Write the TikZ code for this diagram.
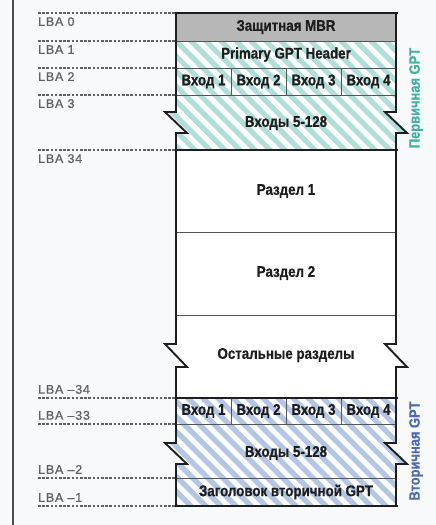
\documentclass[tikz,border=0pt]{standalone}
\usepackage{fontspec}
\setmainfont[FakeStretch=0.86, BoldFeatures={FakeBold=0.7}]{Liberation Sans}
\newfontfamily\lbafont[LetterSpace=6,FakeBold=0.8]{Liberation Sans}

\definecolor{pale}{HTML}{F8F9FB}
\definecolor{ink}{HTML}{1E1E1E}
\definecolor{mbrgray}{HTML}{B7B7B7}
\definecolor{tealstripe}{HTML}{AFDFD9}
\definecolor{bluestripe}{HTML}{B4C6E6}
\definecolor{tealtext}{HTML}{3BB59D}
\definecolor{bluetext}{HTML}{4A6BBF}

%% diagonal stripes inside a closed region
\newcommand{\hatchfill}[2]{%
  \begin{scope}
    \clip #2;
    \foreach \s in {-360,-345,...,405}
      \draw[#1, line width=5.3pt] (\s,0) -- ++(560,560);
  \end{scope}}

\tikzset{
  lba/.style={draw=black!62, dash pattern=on 2.6pt off 1.6pt, line width=1.1pt},
  lbatext/.style={font=\lbafont\fontsize{12.5}{13}\selectfont, text=black!62, inner sep=0pt},
  cell/.style={font=\bfseries\fontsize{15.5}{16}\selectfont, text=ink, inner sep=0pt},
  gpt/.style={font=\bfseries\fontsize{15}{16}\selectfont, rotate=90, inner sep=0pt},
  divide/.style={draw=ink!75, line width=0.9pt},
  outer/.style={draw=ink, line width=1.9pt, line join=miter},
}

\begin{document}
\begin{tikzpicture}[x=1pt,y=-1pt]
\useasboundingbox (0,0) rectangle (436,525);
\fill[pale] (0,0) rectangle (436,525);
\draw[black!70, line width=1.4pt] (13,0) -- (13,525);

%% column background
\fill[white] (176,13) rectangle (396,506);
\fill[mbrgray] (176,13) rectangle (396,41);

%% primary GPT, LBA 1 .. 33
\hatchfill{tealstripe}{(176,41) -- (176,112) -- (165,112) -- (187,133) -- (176,133) -- (176,150) -- (396,150) -- (396,133) -- (407,133) -- (385,112) -- (396,112) -- (396,41) -- cycle}
%% secondary GPT, LBA -34 .. -1
\hatchfill{bluestripe}{(176,398) -- (176,443) -- (165,443) -- (187,464) -- (176,464) -- (176,506) -- (396,506) -- (396,464) -- (407,464) -- (385,443) -- (396,443) -- (396,398) -- cycle}

%% row lines
\foreach \y in {41,68,95,232,315,424,478}
  \draw[divide] (176,\y) -- (396,\y);
\foreach \x in {231,286,341} {
  \draw[divide] (\x,68) -- (\x,95);
  \draw[divide] (\x,398) -- (\x,424);
}
\foreach \y in {13,150,398,506}
  \draw[outer] (174,\y) -- (398,\y);

%% both sides with the breaks
\foreach \x in {176,396}
  \draw[outer] (\x,13) -- (\x,112) -- ++(-11,0) -- ++(22,21) -- ++(-11,0)
    -- (\x,344) -- ++(-11,0) -- ++(22,23) -- ++(-11,0)
    -- (\x,443) -- ++(-11,0) -- ++(22,21) -- ++(-11,0) -- (\x,506);

%% LBA marks
\foreach \y in {13,41,68,95,150,398,424,478,506}
  \draw[lba] (38,\y) -- (176,\y);
\foreach \y/\t [count=\i] in {13/LBA 0,41/LBA 1,68/LBA 2,95/LBA 3,150/LBA 34}
  \node[lbatext, anchor=north west] (lbatop\i) at (38,\y+4) {\t};
\foreach \y/\t [count=\i] in {398/LBA –34,424/LBA –33,478/LBA –2,506/LBA –1}
  \node[lbatext, anchor=south west] (lbabot\i) at (38,\y-4) {\t};

%% cell texts
\node[cell] (mbr) at (286,27) {Защитная MBR};
\node[cell] (header) at (286,54.5) {Primary GPT Header};
\foreach \x [count=\i] in {203.5,258.5,313.5,368.5} {
  \node[cell] (entry\i) at (\x,81.5) {Вход \i};
  \node[cell] (backentry\i) at (\x,411) {Вход \i};
}
\node[cell] (entries) at (286,123) {Входы 5-128};
\node[cell] (part1) at (286,191) {Раздел 1};
\node[cell] (part2) at (286,273) {Раздел 2};
\node[cell] (rest) at (286,355) {Остальные разделы};
\node[cell] (backentries) at (286,453) {Входы 5-128};
\node[cell] (backheader) at (286,492) {Заголовок вторичной GPT};

%% side captions
\node[gpt, text=tealtext] (primary) at (416,98) {Первичная GPT};
\node[gpt, text=bluetext] (secondary) at (416,451) {Вторичная GPT};
\end{tikzpicture}
\end{document}
